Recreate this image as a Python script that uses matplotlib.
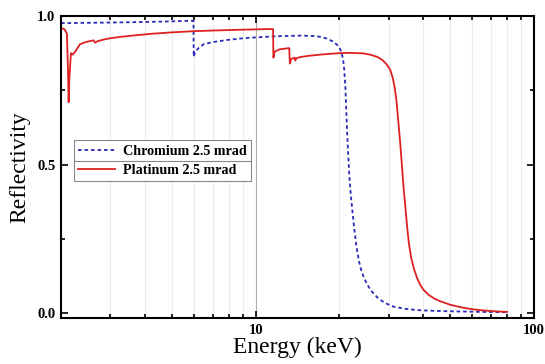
import matplotlib
matplotlib.use("Agg")
import matplotlib.pyplot as plt
from matplotlib.ticker import FixedLocator, NullFormatter, LogLocator, FuncFormatter
from matplotlib.lines import Line2D

# ---- data ----
cr_E = [2.0, 3.0, 4.0, 5.0, 5.8, 5.98, 5.99, 6.05, 6.2, 6.5, 7.0, 8.0, 9.0, 10.0,
        12.0, 14.5, 16.0, 17.1, 18.0, 19.0, 19.6, 20.0, 20.3, 20.6, 20.8, 21.0,
        21.2, 21.4, 21.7, 22.0, 22.5, 23.0, 23.5, 24.0, 24.6, 25.2, 26.0, 27.4,
        29.0, 31.2, 34.0, 38.0, 45.0, 50.0, 65.0, 80.0]
cr_R = [0.976, 0.978, 0.980, 0.982, 0.984, 0.984, 0.863, 0.875, 0.89, 0.905, 0.912,
        0.92, 0.925, 0.928, 0.932, 0.934, 0.933, 0.93, 0.924, 0.914, 0.903, 0.893,
        0.88, 0.855, 0.82, 0.76, 0.66, 0.57, 0.46, 0.39, 0.30, 0.225, 0.175, 0.14,
        0.115, 0.095, 0.075, 0.052, 0.035, 0.022, 0.015, 0.010, 0.007, 0.006,
        0.004, 0.003]

pt_E = [2.00, 2.06, 2.10, 2.12, 2.13, 2.14, 2.17, 2.20, 2.25, 2.30, 2.34, 2.45, 2.55,
        2.62, 2.65, 2.70, 2.88, 3.00, 3.28, 3.60, 4.20, 5.0, 6.0, 7.5, 9.0, 10.0,
        11.0, 11.55, 11.58, 11.7, 12.2, 13.2, 13.27, 13.4, 13.8, 13.88, 14.0, 14.5,
        15.5, 17.5, 20.0, 22.0, 24.5, 26.0, 27.4, 28.5, 29.5, 30.4, 31.0, 31.5,
        32.0, 32.5, 33.0, 33.5, 34.0, 34.5, 35.0, 35.5, 36.2, 37.0, 38.0, 39.0,
        40.0, 42.0, 44.0, 46.0, 50.0, 55.0, 60.0, 64.0, 72.0, 80.0]
pt_R = [0.96, 0.955, 0.94, 0.80, 0.71, 0.78, 0.875, 0.870, 0.88, 0.895, 0.905, 0.912,
        0.916, 0.918, 0.910, 0.915, 0.922, 0.925, 0.93, 0.934, 0.940, 0.945, 0.949,
        0.952, 0.954, 0.955, 0.956, 0.956, 0.86, 0.88, 0.888, 0.892, 0.84, 0.855,
        0.86, 0.85, 0.858, 0.862, 0.866, 0.871, 0.875, 0.876, 0.874, 0.869, 0.862,
        0.852, 0.838, 0.82, 0.795, 0.765, 0.72, 0.65, 0.58, 0.50, 0.42, 0.355, 0.29,
        0.235, 0.185, 0.15, 0.118, 0.095, 0.079, 0.06, 0.048, 0.04, 0.028, 0.019,
        0.013, 0.010, 0.006, 0.004]

labels = ["Chromium 2.5 mrad", "Platinum 2.5 mrad"]
x_ticks = [10, 100]
y_ticks = [0.0, 0.5, 1.0]

serif = ["Liberation Serif", "DejaVu Serif"]

fig = plt.figure(figsize=(5.45, 3.64), dpi=100)
ax = fig.add_axes([0.112, 0.126, 0.868, 0.830])

# faint vertical grid at minor positions
for v in [3, 4, 5, 6, 7, 8, 9, 20, 30, 40, 50, 60, 70, 80, 90]:
    ax.axvline(v, color="#ececec", lw=0.8, zorder=0)
ax.axvline(10, color="#b0b0b0", lw=0.8, zorder=0)

ax.plot(cr_E, cr_R, color="#2a2ab8", lw=1.3, linestyle=(0, (2, 1.6)), label=labels[0])
ax.plot(pt_E, pt_R, color="#dd2020", lw=1.3, label=labels[1])

ax.set_xscale("log")
ax.set_xlim(2.0, 100)
ax.set_ylim(-0.017, 1.0)

ax.xaxis.set_major_locator(FixedLocator(x_ticks))
ax.xaxis.set_major_formatter(FuncFormatter(lambda v, p: f"{v:g}"))
ax.xaxis.set_minor_locator(LogLocator(base=10, subs=range(2, 10)))
ax.xaxis.set_minor_formatter(NullFormatter())
ax.yaxis.set_major_locator(FixedLocator(y_ticks))
ax.yaxis.set_major_formatter(FuncFormatter(lambda v, p: f"{v:.1f}"))
ax.yaxis.set_minor_locator(FixedLocator([0.25, 0.75]))

ax.tick_params(which="both", direction="in", top=True, right=True, width=1.2)
ax.tick_params(which="major", length=5, labelsize=10.5, pad=4)
ax.tick_params(which="minor", length=3)
for lab in ax.get_xticklabels() + ax.get_yticklabels():
    lab.set_fontfamily(serif)
    lab.set_fontweight("bold")

for s in ax.spines.values():
    s.set_linewidth(1.5)

ax.set_xlabel("Energy (keV)", fontsize=17, family=serif, labelpad=0)
ax.set_ylabel("Reflectivity", fontsize=17, family=serif, labelpad=5)

leg = ax.legend(loc="upper left", bbox_to_anchor=(0.012, 0.612), frameon=True,
                fancybox=False, edgecolor="#888888", framealpha=1,
                prop={"family": serif, "weight": "bold", "size": 10.2},
                handlelength=2.6, borderpad=0.3, labelspacing=0.45,
                handletextpad=0.6)
leg.get_frame().set_linewidth(0.8)

fig.canvas.draw()
bb = leg.get_window_extent().transformed(fig.transFigure.inverted())
ymid = (bb.y0 + bb.y1) / 2
fig.add_artist(Line2D([bb.x0, bb.x1], [ymid, ymid], transform=fig.transFigure,
                      color="#888888", lw=0.8))

fig.savefig("out.png", dpi=100)
